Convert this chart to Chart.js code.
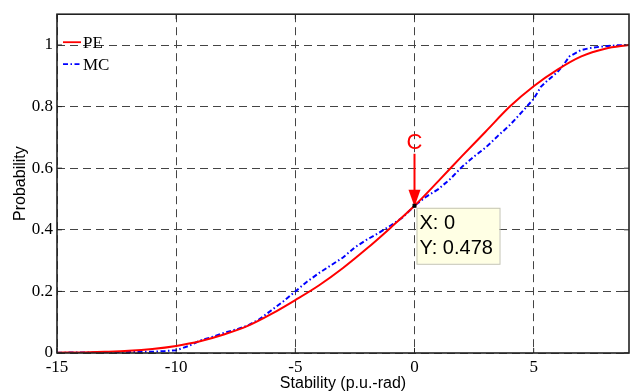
<!DOCTYPE html>
<html>
<head>
<meta charset="utf-8">
<script src="https://cdn.jsdelivr.net/npm/chart.js@4.4.0/dist/chart.umd.min.js"></script>
<style>
  html, body { margin: 0; padding: 0; background: #fff; }
</style>
</head>
<body>
<canvas id="cdf" width="635" height="392"></canvas>
<script>
// PE: point-estimate CDF of the stability index
const peX = [-15, -14, -13, -12, -11, -10, -9, -8, -7, -6, -5, -4, -3, -2, -1, 0,
             1, 2, 3, 4, 5, 6, 7, 8, 9];
const peY = [0.001, 0.002, 0.004, 0.007, 0.013, 0.023, 0.038, 0.060, 0.088, 0.127, 0.172, 0.220, 0.276, 0.339, 0.407, 0.478,
             0.558, 0.640, 0.720, 0.800, 0.866, 0.920, 0.963, 0.988, 1.0];

// MC: Monte Carlo empirical CDF
const mcX = [-15, -13, -12, -11, -10.5, -10, -9.5, -9, -8.5, -8, -7.5, -7, -6.5, -6, -5.5, -5, -4.5, -4, -3.5, -3,
             -2.5, -2, -1.5, -1, -0.5, 0, 0.5, 1, 1.5, 2, 2.5, 3, 3.5, 4, 4.5, 5, 5.3, 5.6, 6, 6.25, 6.5, 7, 7.5, 8, 8.5, 9];
const mcY = [0.001, 0.002, 0.003, 0.004, 0.006, 0.009, 0.022, 0.040, 0.052, 0.065, 0.076, 0.089, 0.110, 0.139, 0.168, 0.200, 0.232, 0.260, 0.285, 0.310,
             0.343, 0.368, 0.390, 0.414, 0.440, 0.478, 0.508, 0.532, 0.565, 0.605, 0.638, 0.668, 0.705, 0.740, 0.782, 0.825, 0.864, 0.886, 0.912, 0.935, 0.963, 0.984, 0.992, 0.996, 0.999, 1.0];

const xTickValues = [-15, -10, -5, 0, 5];
const yTickValues = [0, 0.2, 0.4, 0.6, 0.8, 1];

// data tip at the point marked C
const tipX = 0;
const tipY = 0.478;

const toPoints = (xs, ys) => xs.map((x, i) => ({ x: x, y: ys[i] }));

const serif = '"Liberation Serif", "Times New Roman", serif';
const sans = '"Liberation Sans", Arial, sans-serif';

// frame, inner ticks, legend and the C annotation
const decorations = {
    id: 'decorations',
    afterDraw(chart) {
        const ctx = chart.ctx;
        const a = chart.chartArea;
        const xs = chart.scales.x, ys = chart.scales.y;
        ctx.save();

        // box round the axes
        ctx.strokeStyle = '#222';
        ctx.lineWidth = 1.6;
        ctx.setLineDash([]);
        ctx.strokeRect(a.left, a.top, a.right - a.left, a.bottom - a.top);

        // tick marks pointing inward
        ctx.lineWidth = 1;
        ctx.beginPath();
        xTickValues.forEach(v => {
            const px = xs.getPixelForValue(v);
            ctx.moveTo(px, a.bottom); ctx.lineTo(px, a.bottom - 5);
            ctx.moveTo(px, a.top); ctx.lineTo(px, a.top + 5);
        });
        yTickValues.forEach(v => {
            const py = ys.getPixelForValue(v);
            ctx.moveTo(a.left, py); ctx.lineTo(a.left + 5, py);
            ctx.moveTo(a.right, py); ctx.lineTo(a.right - 5, py);
        });
        ctx.stroke();

        // legend
        const sets = chart.data.datasets;
        ctx.font = '17px ' + serif;
        ctx.textBaseline = 'middle';
        sets.forEach((ds, i) => {
            const ly = a.top + 28 + i * 22;
            ctx.strokeStyle = ds.borderColor;
            ctx.lineWidth = 1.8;
            ctx.setLineDash(ds.borderDash || []);
            ctx.beginPath();
            ctx.moveTo(a.left + 6, ly);
            ctx.lineTo(a.left + 24, ly);
            ctx.stroke();
            ctx.fillStyle = '#000';
            ctx.fillText(ds.label, a.left + 26, ly + 1);
        });
        ctx.setLineDash([]);

        // arrow and label C
        const tx = xs.getPixelForValue(tipX);
        const ty = ys.getPixelForValue(tipY);
        ctx.strokeStyle = '#ff0000';
        ctx.fillStyle = '#ff0000';
        ctx.lineWidth = 2;
        ctx.beginPath();
        ctx.moveTo(tx, ty - 52);
        ctx.lineTo(tx, ty - 14);
        ctx.stroke();
        ctx.beginPath();
        ctx.moveTo(tx, ty + 1);
        ctx.lineTo(tx - 6, ty - 16);
        ctx.lineTo(tx + 6, ty - 16);
        ctx.closePath();
        ctx.fill();
        ctx.font = '22px ' + sans;
        ctx.textAlign = 'center';
        ctx.fillText('C', tx, ty - 63);

        // small marker at the data point
        ctx.fillStyle = '#000';
        ctx.fillRect(tx - 2, ty - 2, 4, 4);

        // data tip box
        const bx = tx + 2, by = ty + 2, bw = 83, bh = 56;
        ctx.fillStyle = '#ffffe4';
        ctx.fillRect(bx, by, bw, bh);
        ctx.strokeStyle = '#c4c4b4';
        ctx.lineWidth = 1;
        ctx.strokeRect(bx + 0.5, by + 0.5, bw, bh);
        ctx.fillStyle = '#000';
        ctx.textAlign = 'left';
        ctx.font = '20px ' + sans;
        ctx.fillText('X: ' + tipX, bx + 3, by + 16);
        ctx.fillText('Y: ' + tipY, bx + 3, by + 41);

        ctx.restore();
    }
};

new Chart(document.getElementById('cdf'), {
    type: 'line',
    data: {
        datasets: [
            {
                label: 'PE',
                data: toPoints(peX, peY),
                borderColor: '#ff0000',
                borderWidth: 2,
                pointRadius: 0,
                cubicInterpolationMode: 'monotone',
                fill: false
            },
            {
                label: 'MC',
                data: toPoints(mcX, mcY),
                borderColor: '#0000ff',
                borderWidth: 2,
                borderDash: [5, 2.5, 1.5, 2.5],
                pointRadius: 0,
                tension: 0,
                fill: false
            }
        ]
    },
    options: {
        responsive: false,
        animation: false,
        layout: { padding: { top: 10, right: 6, left: 0, bottom: 0 } },
        plugins: {
            legend: { display: false },
            tooltip: { enabled: false }
        },
        scales: {
            x: {
                type: 'linear',
                min: -15,
                max: 9,
                afterBuildTicks: s => { s.ticks = xTickValues.map(v => ({ value: v })); },
                afterFit: s => { s.height = 39; },
                ticks: {
                    color: '#000',
                    font: { family: serif, size: 17 },
                    padding: 4,
                    maxRotation: 0,
                    callback: v => String(v)
                },
                grid: { color: '#444', lineWidth: 1, drawTicks: false, tickLength: 0 },
                border: { display: false, dash: [8, 5] },
                title: {
                    display: true,
                    text: 'Stability (p.u.-rad)',
                    color: '#000',
                    font: { family: sans, size: 16, lineHeight: 1.1 },
                    padding: { top: 0, bottom: 0 }
                }
            },
            y: {
                type: 'linear',
                min: 0,
                max: 1.1,
                afterBuildTicks: s => { s.ticks = yTickValues.map(v => ({ value: v })); },
                afterFit: s => { s.width = 57; },
                ticks: {
                    color: '#000',
                    font: { family: serif, size: 17 },
                    padding: 4,
                    callback: v => String(v)
                },
                grid: { color: '#444', lineWidth: 1, drawTicks: false, tickLength: 0 },
                border: { display: false, dash: [8, 5] },
                title: {
                    display: true,
                    text: 'Probability',
                    color: '#000',
                    font: { family: sans, size: 16, lineHeight: 1.2 },
                    padding: { top: 11, bottom: 0 }
                }
            }
        }
    },
    plugins: [decorations]
});
</script>
</body>
</html>
